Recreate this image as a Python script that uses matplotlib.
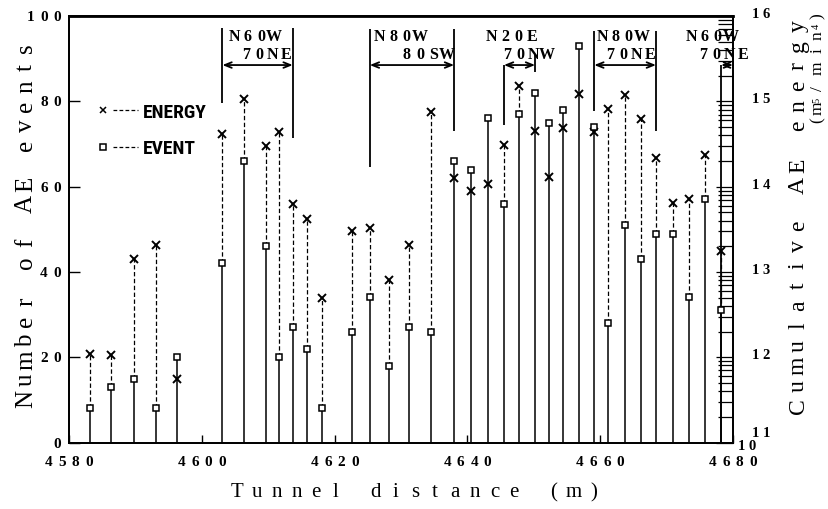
import matplotlib
matplotlib.use('Agg')
import matplotlib.pyplot as plt
import numpy as np
from matplotlib.lines import Line2D
from matplotlib.ticker import FixedLocator, LogLocator, NullFormatter

W, H = 829, 509

# ---------------- data ----------------
positions = [4583.2, 4586.4, 4589.8, 4593.1, 4596.3, 4603.1, 4606.4, 4609.7,
             4611.7, 4613.7, 4615.9, 4618.1, 4622.6, 4625.3, 4628.2, 4631.25,
             4634.5, 4638.0, 4640.5, 4643.1, 4645.5, 4647.7, 4650.2, 4652.3,
             4654.4, 4656.8, 4659.1, 4661.2, 4663.7, 4666.1, 4668.4, 4670.9,
             4673.3, 4675.8, 4678.2]
events = [8, 13, 15, 8, 20, 42, 66, 46, 20, 27, 22, 8, 26, 34, 18, 27,
          26, 66, 64, 76, 56, 77, 82, 75, 78, 93, 74, 28, 51, 43, 49, 49,
          34, 57, 31]
# log10 of cumulative AE energy (m^5/min^4)
energy_exp = [12.035, 12.03, 13.15, 13.32, 11.745, 14.615, 15.025, 14.475,
              14.635, 13.80, 13.62, 12.695, 13.485, 13.515, 12.90, 13.315,
              14.87, 14.105, 13.945, 14.035, 14.485, 15.18, 14.65, 14.11,
              14.69, 15.09, 14.635, 14.915, 15.07, 14.79, 14.33, 13.81,
              13.86, 14.37, 13.24]

zone_names = ['N60W', 'N80W', 'N20E', 'N80W', 'N60W']
zone_dips = ['70NE', '80SW', '70NW', '70NE', '70NE']
zone_start = [4603.1, 4625.3, 4645.5, 4659.1, 4678.2]
zone_end = [4613.7, 4638.0, 4650.2, 4668.4, 4680.0]
start_line = [(79.6, 97.2), (64.7, 96.9), (74.4, 88.5), (77.7, 96.6), (0.0, 88.5)]
end_line = [(71.5, 97.2), (73.0, 96.9), (86.8, 91.0), (73.0, 96.6), None]
zone_arrow_y = 88.5
name_x = [4607.9, 4629.8, 4646.7, 4663.3, 4676.7]
dip_x = [4609.7, 4633.9, 4649.0, 4664.5, 4678.5]

x_ticks = [4580, 4600, 4620, 4640, 4660, 4680]
y_ticks = [0, 20, 40, 60, 80, 100]
right_exps = [11, 12, 13, 14, 15, 16]

# ---------------- figure ----------------
SERIF = ['Liberation Serif', 'DejaVu Serif']
fig = plt.figure(figsize=(W / 100, H / 100), dpi=100)
fig.patch.set_facecolor('white')
ax = fig.add_axes([69 / W, 1 - 442.5 / H, 664 / W, 426.5 / H])
ax2 = ax.twinx()
ax.set_zorder(ax2.get_zorder() + 1)
ax.patch.set_visible(False)

ax.set_xlim(4580, 4680)
ax.set_ylim(0, 100)
ax2.set_yscale('log')
ax2.set_ylim(1e11, 1e16)

ax.set_xticks(x_ticks)
ax.set_yticks(y_ticks)
ax.tick_params(axis='both', direction='in', labelbottom=False, labelleft=False,
               width=1.0, color='k', top=False, right=False)
ax.tick_params(axis='y', length=8)
ax.tick_params(axis='x', length=6)
ax2.yaxis.set_major_locator(FixedLocator([10.0 ** k for k in right_exps]))
ax2.yaxis.set_minor_locator(LogLocator(base=10, subs=np.arange(2, 10), numticks=30))
ax2.yaxis.set_minor_formatter(NullFormatter())
ax2.tick_params(which='both', direction='in', labelright=False, color='k', width=0.9)
ax2.tick_params(which='major', length=12)
ax2.tick_params(which='minor', length=11)
for a in (ax, ax2):
    for s in a.spines.values():
        s.set_linewidth(1.3)
        s.set_color('k')
ax.spines['top'].set_linewidth(2.0)

# stems (event counts)
ax.vlines(positions, 0, events, colors='k', lw=1.1, zorder=2)
# dashed connectors from event square to energy mark
for p, ev, en in zip(positions, events, energy_exp):
    ev_equiv = 10 ** (right_exps[0] + ev * (right_exps[-1] - right_exps[0]) / 100.0)
    if 10 ** en > ev_equiv:
        ax2.vlines(p, ev_equiv, 10 ** en, colors='k', lw=0.9,
                   linestyles=[(0, (3.5, 2.0))])
ax2.plot(positions, [10 ** e for e in energy_exp], ls='none', marker='x',
         ms=6, mew=1.4, color='k')
ax.plot(positions, events, ls='none', marker='s', ms=5, mfc='white',
        mec='k', mew=1.1, zorder=4)

# fault zones
for i in range(len(zone_names)):
    y0, y1 = start_line[i]
    ax.vlines(zone_start[i], y0, y1, colors='k', lw=1.3, zorder=3)
    if end_line[i] is not None:
        y0, y1 = end_line[i]
        ax.vlines(zone_end[i], y0, y1, colors='k', lw=1.3, zorder=3)
    ax.annotate('', xy=(zone_end[i], zone_arrow_y), xytext=(zone_start[i], zone_arrow_y),
                arrowprops=dict(arrowstyle='<->,head_length=0.5,head_width=0.2',
                                lw=1.3, color='k', shrinkA=0, shrinkB=0),
                zorder=3)


# ---------------- letter-spaced text helper ----------------
def spaced(xd, yd, s, pitch, rot=0, align='center', **kw):
    n = len(s)
    start = {'center': -(n - 1) / 2.0, 'left': 0.0, 'right': -(n - 1.0)}[align] * pitch
    for i, ch in enumerate(s):
        if ch == ' ':
            continue
        off = start + i * pitch
        if rot == 0:
            x, y = xd + off, yd
        else:
            x, y = xd, yd + off
        fig.text(x / W, y / H, ch, rotation=rot, rotation_mode='anchor',
                 ha='center', va='baseline', color='k', family=SERIF, **kw)


# zone labels
for i in range(len(zone_names)):
    xd, yd = ax.transData.transform((name_x[i], 94.1))
    spaced(xd, yd, zone_names[i], 13.3, fontsize=11.5, fontweight='bold')
    xd, yd = ax.transData.transform((dip_x[i], 90.0))
    spaced(xd, yd, zone_dips[i], 13.3, fontsize=11.5, fontweight='bold')

# bottom tick labels
for t in x_ticks:
    xd, _ = ax.transData.transform((t, 0))
    spaced(xd, H - 466, str(t), 13.5, fontsize=11, fontweight='bold')
# left tick labels
for t in y_ticks:
    _, yd = ax.transData.transform((4580, t))
    spaced(57, yd - 5, str(t), 13.0, align='right', fontsize=11, fontweight='bold')
# right tick labels
for k in right_exps:
    _, yd = ax2.transData.transform((4680, 10.0 ** k))
    shift = 5.5 if k == right_exps[0] else -2
    spaced(761, yd + shift, str(k), 11.0, fontsize=10.5, fontweight='bold')
spaced(747, H - 450, '10', 11.0, fontsize=10.5, fontweight='bold')

# axis titles
spaced(32, H - 399, 'Number of AE events', 19.5, rot=90, align='left', fontsize=18)
spaced(237, H - 497, 'Tunnel distance (m)', 19.8, align='left', fontsize=15)
spaced(804, H - 406, 'Cumulative AE energy', 20.0, rot=90, align='left', fontsize=17)
unit_chars = ['(', 'm', '5', '/', 'm', 'i', 'n', '4', ')']
unit_off = [0, 12, 20, 31, 52, 69, 84, 94, 104]
unit_sup = [False, False, True, False, False, False, False, True, False]
for ch, off, sup in zip(unit_chars, unit_off, unit_sup):
    fig.text((822 - (3 if sup else 0)) / W, (H - 120 + off) / H, ch, rotation=90,
             rotation_mode='anchor', ha='center', va='baseline', color='k',
             family=SERIF, fontsize=7.5 if sup else 12.5)

# legend
LEG = ['Liberation Sans Narrow', 'Roboto Condensed', 'Noto Sans Condensed',
       'Open Sans Condensed', 'Liberation Serif']
for yy, mk, lab in [(110, 'x', 'ENERGY'), (147, 's', 'EVENT')]:
    fig.add_artist(Line2D([113 / W, 138 / W], [1 - yy / H] * 2, ls=(0, (3, 1.8)),
                          lw=0.9, color='k', transform=fig.transFigure))
    fig.add_artist(Line2D([103 / W], [1 - yy / H], ls='none', marker=mk,
                          ms=5 if mk == 'x' else 4.5, mew=1.1, mfc='white', mec='k',
                          color='k', transform=fig.transFigure))
    fig.text(143 / W, 1 - (yy + 7.5) / H, lab, ha='left', va='baseline',
             family=LEG, fontweight='bold', fontstretch='condensed', fontsize=14)

fig.savefig('out.png', dpi=100, facecolor='white')
